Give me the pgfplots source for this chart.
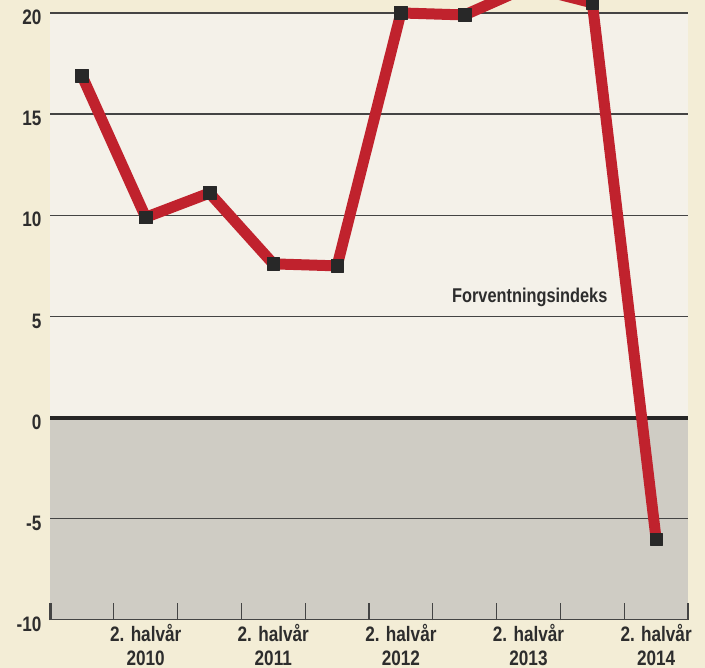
\documentclass[border=0pt]{standalone}
\usepackage{fontspec}
\setmainfont{Liberation Sans}[FakeStretch=0.82]
\usepackage{pgfplots}
\pgfplotsset{compat=1.18}
\usetikzlibrary{backgrounds}
\definecolor{cream}{RGB}{243,237,214}
\definecolor{lightbg}{RGB}{244,241,233}
\definecolor{greybg}{RGB}{207,204,196}
\definecolor{redline}{RGB}{192,34,45}
\definecolor{gridc}{RGB}{68,68,68}
\definecolor{markc}{RGB}{40,40,40}
\definecolor{txt}{RGB}{45,45,45}
\begin{document}
\begin{tikzpicture}
\begin{axis}[
  scale only axis, width=638bp, height=620bp,
  xmin=0, xmax=10, ymin=-10, ymax=20.64,
  axis line style={draw=none},
  axis on top,
  clip=true,
  xtick={0,1,2,3,4,5,6,7,8,9,10}, xticklabels={},
  extra x ticks={1.5,3.5,5.5,7.5,9.5},
  extra x tick labels={{2. halvår\\2010},{2. halvår\\2011},{2. halvår\\2012},{2. halvår\\2013},{2. halvår\\2014}},
  extra x tick style={major tick length=0pt},
  xtick pos=bottom, tick align=inside, major tick length=17bp,
  x tick style={gridc, line width=1.3bp},
  xticklabel style={align=center, font=\bfseries\fontsize{21}{24}\selectfont, text=txt, yshift=-1bp},
  ytick={-10,-5,0,5,10,15,20}, ytick pos=left,
  y tick style={draw=none},
  yticklabel style={font=\bfseries\fontsize{21}{21}\selectfont, text=txt, yshift=-4.5bp, xshift=-5bp},
  /pgf/number format/assume math mode=true,
]
\fill[lightbg] (axis cs:0,0) rectangle (axis cs:10,20);
\fill[greybg] (axis cs:0,-10) rectangle (axis cs:10,0);
\draw[gridc, line width=1.3bp] (axis cs:0,20) -- (axis cs:10,20);
\draw[gridc, line width=1.3bp] (axis cs:0,15) -- (axis cs:10,15);
\draw[gridc, line width=1.3bp] (axis cs:0,10) -- (axis cs:10,10);
\draw[gridc, line width=1.3bp] (axis cs:0,5) -- (axis cs:10,5);
\draw[gridc, line width=1.3bp] (axis cs:0,-5) -- (axis cs:10,-5);
\draw[gridc, line width=1.5bp] (axis cs:0,-10) -- (axis cs:10,-10);
\draw[gridc, line width=3.5bp] (axis cs:0,-10) -- ([yshift=17bp]axis cs:0,-10);
\draw[black!85, line width=4bp] (axis cs:0,0) -- (axis cs:10,0);
\node[font=\bfseries\fontsize{20}{20}\selectfont, text=txt] at (axis cs:7.52,5.93) {Forventningsindeks};
\addplot[redline, line width=11bp, line join=round, mark=square*, mark size=6.3bp, mark options={solid, fill=markc, draw=markc, line width=0.5bp}]
  coordinates {(0.5,16.9) (1.5,9.9) (2.5,11.1) (3.5,7.6) (4.5,7.5) (5.5,20.0) (6.5,19.9) (7.5,21.3) (8.5,20.5) (9.5,-6.0)};
\end{axis}
\begin{scope}[on background layer]
\fill[cream] ([shift={(-50bp,-48bp)}]current axis.south west) rectangle ([shift={(17bp,0bp)}]current axis.north east);
\end{scope}
\pgfresetboundingbox
\path[use as bounding box] ([shift={(-50bp,-48bp)}]current axis.south west) rectangle ([shift={(17bp,0bp)}]current axis.north east);
\end{tikzpicture}
\end{document}
